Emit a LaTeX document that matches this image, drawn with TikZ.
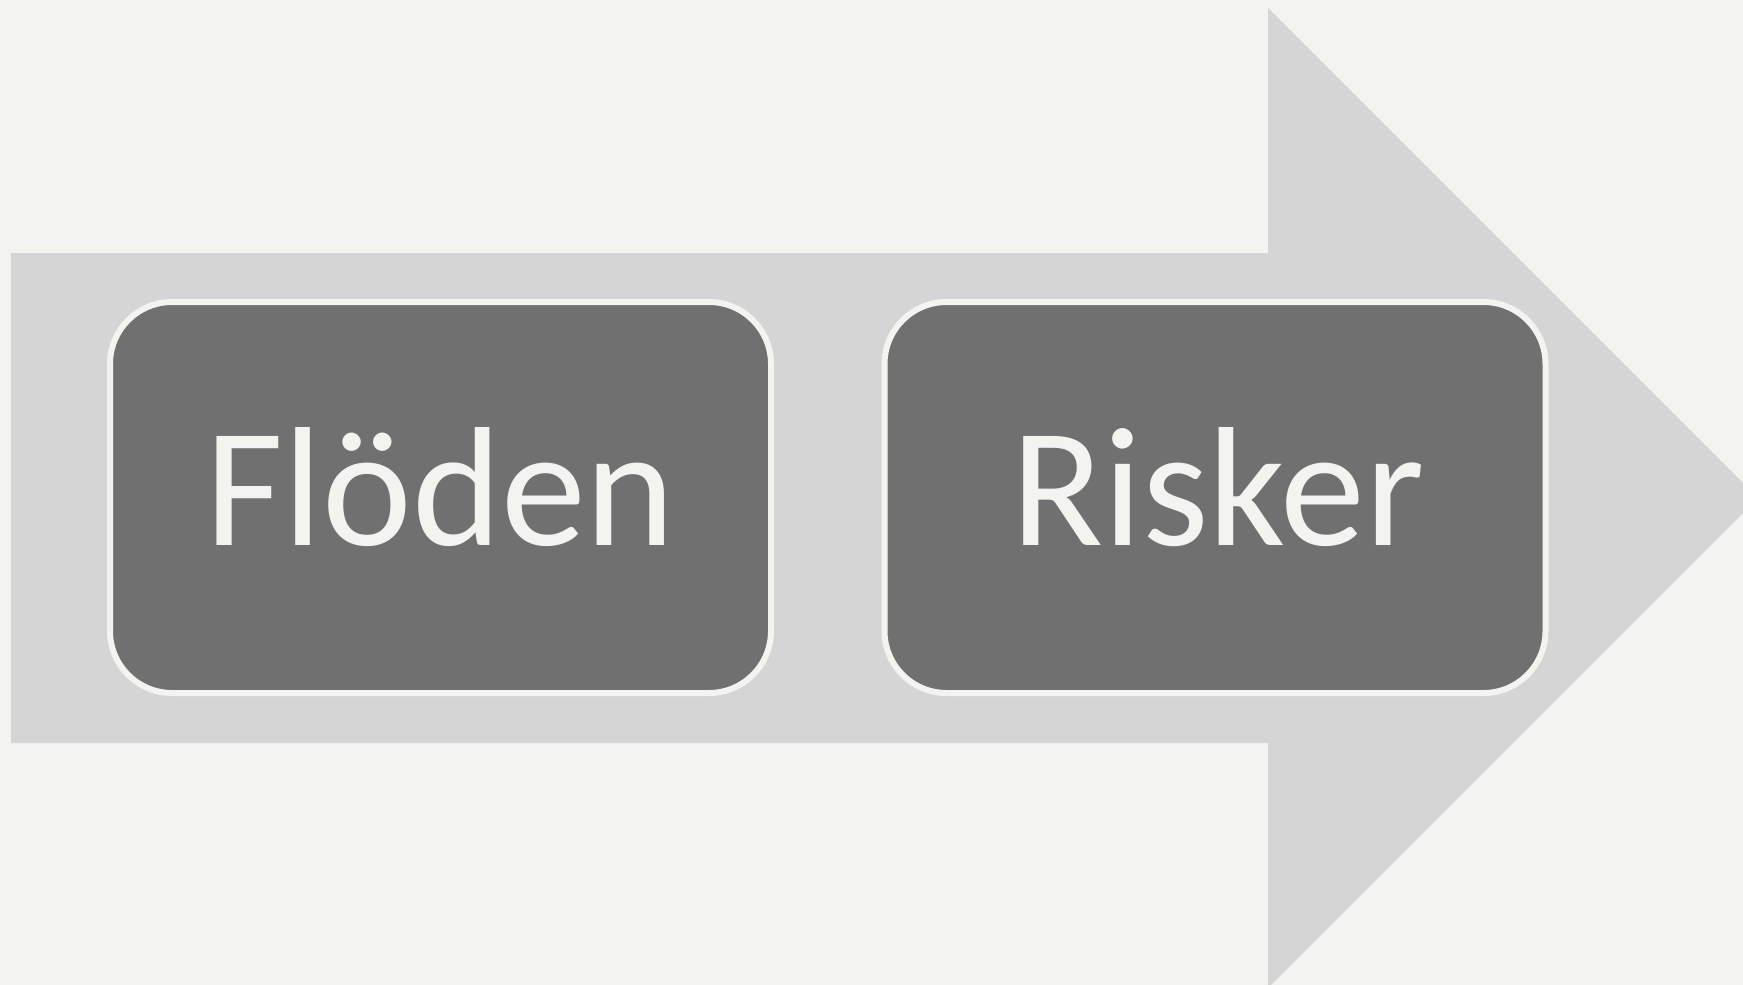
\documentclass[tikz,border=0pt]{standalone}
\usepackage{fontspec}
\setmainfont{Carlito}
\definecolor{bg}{RGB}{243,244,239}
\definecolor{arrowgray}{RGB}{213,213,213}
\definecolor{boxgray}{RGB}{112,112,112}
\begin{document}
\begin{tikzpicture}[x=1pt,y=-1pt,
  stagebox/.style={draw=bg, line width=6pt, fill=boxgray, rounded corners=62pt,
    rectangle, minimum width=661pt, minimum height=391pt, inner sep=0pt},
  stagelabel/.style={text=bg, font=\fontsize{170}{200}\selectfont, inner sep=0pt, anchor=base}]
\useasboundingbox (0,0) rectangle (1743,985);
\fill[bg] (0,0) rectangle (1743,985);
\begin{scope}
\clip (0,0) rectangle (1743,985);
\fill[arrowgray] (11,253) -- (1268,253) -- (1268,8) -- (1758,498) -- (1268,988)
  -- (1268,743) -- (11,743) -- cycle;
\end{scope}
\node[stagebox] (b1) at (440.5,497.5) {};
\node[stagebox] (b2) at (1215,497.5) {};
\node[stagelabel] (t1) at (440.5,545) {Flöden};
\node[stagelabel] (t2) at (1218,545) {Risker};
\end{tikzpicture}
\end{document}
